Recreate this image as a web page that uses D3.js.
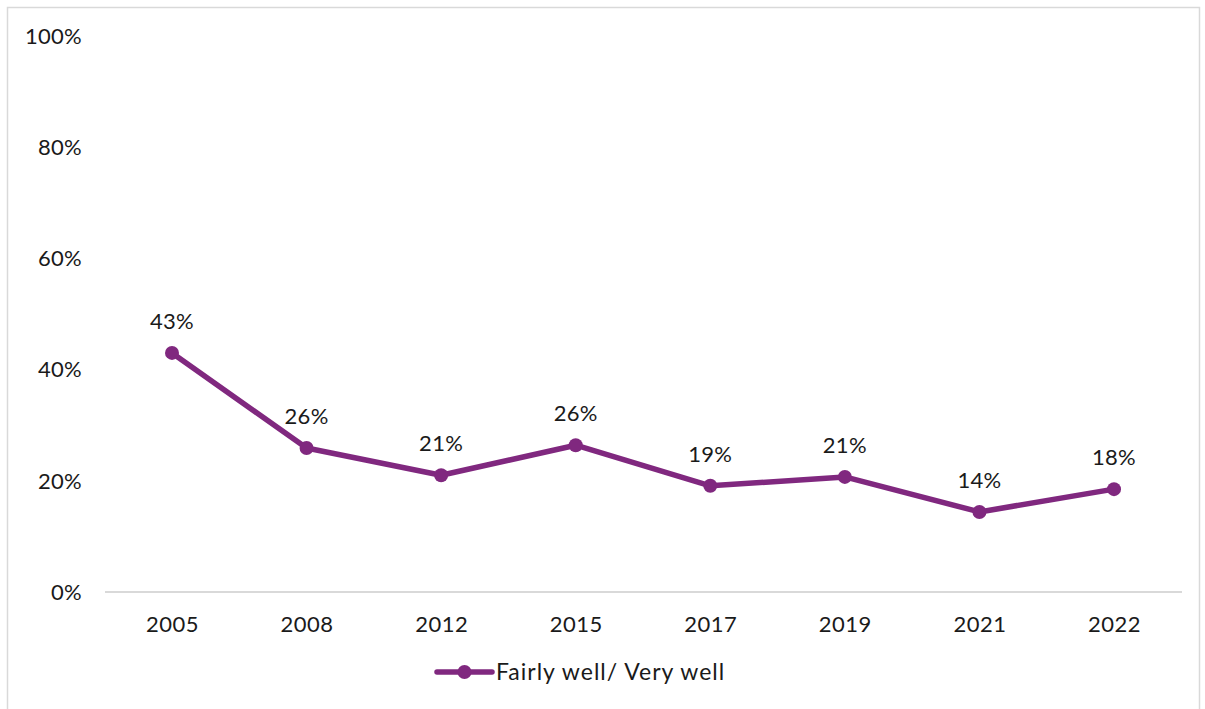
<!DOCTYPE html>
<html>
<head>
<meta charset="utf-8">
<script src="https://cdn.jsdelivr.net/npm/d3@7"></script>
<style>
  body { margin: 0; background: #fff; }
  text { font-family: "Lato", sans-serif; fill: #1a1a1a; }
</style>
</head>
<body>
<script>
// chart data
var years = ["2005", "2008", "2012", "2015", "2017", "2019", "2021", "2022"];
var values = [43.0, 25.9, 21.0, 26.4, 19.1, 20.7, 14.4, 18.5];
var valueLabels = ["43%", "26%", "21%", "26%", "19%", "21%", "14%", "18%"];
var yTicks = [0, 20, 40, 60, 80, 100];
var seriesName = "Fairly well/ Very well";

var width = 1205, height = 709;
var purple = "#80287f";
var fs = 22;

var svg = d3.select("body").append("svg")
  .attr("width", width)
  .attr("height", height);

// outer frame
svg.append("rect")
  .attr("x", 7.5).attr("y", 7.5)
  .attr("width", 1192).attr("height", 705)
  .attr("fill", "none")
  .attr("stroke", "#d9d9d9")
  .attr("stroke-width", 1.5);

var x = d3.scalePoint()
  .domain(years)
  .range([172, 1114]);

var y = d3.scaleLinear()
  .domain([0, 100])
  .range([592, 36]);

// y labels (no axis line)
svg.selectAll(".ylab")
  .data(yTicks)
  .enter().append("text")
  .attr("class", "ylab")
  .attr("x", 82)
  .attr("y", function (d) { return y(d); })
  .attr("dy", "0.35em")
  .attr("text-anchor", "end")
  .attr("font-size", fs)
  .attr("letter-spacing", 0.3)
  .text(function (d) { return d + "%"; });

// x axis
var xAxis = svg.append("g")
  .attr("transform", "translate(0,592)")
  .call(d3.axisBottom(x).tickSize(0).tickPadding(24));
xAxis.select(".domain")
  .attr("d", "M105,0H1182")
  .attr("stroke", "#d9d9d9")
  .attr("stroke-width", 2);
xAxis.selectAll("text")
  .attr("font-size", fs)
  .attr("font-family", "Lato, sans-serif")
  .attr("letter-spacing", 0.5)
  .attr("fill", "#1a1a1a");

// line
var line = d3.line()
  .x(function (d, i) { return x(years[i]); })
  .y(function (d) { return y(d); });

svg.append("path")
  .datum(values)
  .attr("d", line)
  .attr("fill", "none")
  .attr("stroke", purple)
  .attr("stroke-width", 5.5)
  .attr("stroke-linejoin", "round");

svg.selectAll(".dot")
  .data(values)
  .enter().append("circle")
  .attr("class", "dot")
  .attr("cx", function (d, i) { return x(years[i]); })
  .attr("cy", function (d) { return y(d); })
  .attr("r", 7)
  .attr("fill", purple);

svg.selectAll(".vlab")
  .data(values)
  .enter().append("text")
  .attr("class", "vlab")
  .attr("x", function (d, i) { return x(years[i]); })
  .attr("y", function (d) { return y(d) - 24; })
  .attr("text-anchor", "middle")
  .attr("font-size", fs)
  .attr("letter-spacing", 0.3)
  .text(function (d, i) { return valueLabels[i]; });

// legend
var leg = svg.append("g").attr("transform", "translate(437,672)");
leg.append("line")
  .attr("x1", 0).attr("x2", 55)
  .attr("stroke", purple)
  .attr("stroke-width", 5.5)
  .attr("stroke-linecap", "round");
leg.append("circle")
  .attr("cx", 27.5).attr("r", 7)
  .attr("fill", purple);
leg.append("text")
  .attr("x", 59)
  .attr("dy", "0.35em")
  .attr("font-size", 23)
  .attr("letter-spacing", 1)
  .text(seriesName);
</script>
</body>
</html>
